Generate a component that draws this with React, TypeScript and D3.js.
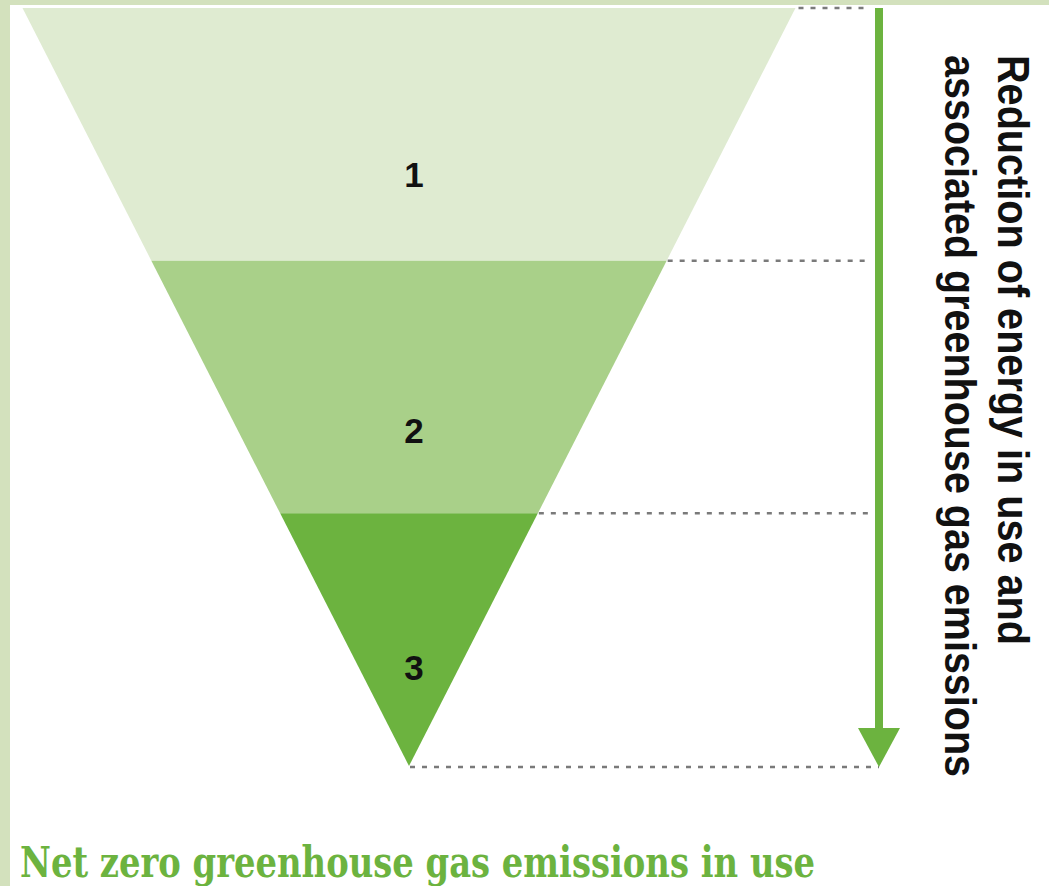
import React from "react";
import * as d3 from "d3";

const stageLabels = ["1", "2", "3"];
const stageBounds = [0, 1, 2, 3];
const labelLevels = [0.71, 1.72, 2.66];
const stageColors = ["#dfebd1", "#a9d089", "#6cb33f"];
const sideLines = ["Reduction of energy in use and", "associated greenhouse gas emissions"];
const footer = "Net zero greenhouse gas emissions in use";

const W = 1049;
const H = 886;

export default function App() {
  const y = d3.scaleLinear().domain([0, 3]).range([8, 766]);
  const half = d3.scaleLinear().domain([0, 3]).range([386.5, 0]);
  const cx = 409;
  const green = "#6cb33f";

  const bandPath = (a: number, b: number) => {
    const p = d3.path();
    p.moveTo(cx - half(a), y(a));
    p.lineTo(cx + half(a), y(a));
    p.lineTo(cx + half(b), y(b));
    p.lineTo(cx - half(b), y(b));
    p.closePath();
    return p.toString();
  };

  const arrowX = 879;

  return (
    <svg width={W} height={H} style={{ position: "absolute", left: 0, top: 0, background: "#fff" }}>
      <rect x={0} y={0} width={W} height={H} fill="#fff" />
      <rect x={0} y={0} width={W} height={5} fill="#d3e1bd" />
      <rect x={0} y={0} width={10} height={H} fill="#d3e1bd" />

      {stageLabels.map((s, i) => (
        <path key={s} d={bandPath(stageBounds[i], stageBounds[i + 1])} fill={stageColors[i]} />
      ))}

      {stageBounds.map((b, i) => {
        const last = i === stageBounds.length - 1;
        const x1 = cx + half(b) + (i === 0 ? 3 : 1);
        const x2 = last ? arrowX : 868;
        return (
          <line
            key={b}
            x1={x1}
            x2={x2}
            y1={y(b) + (last ? 1 : 0)}
            y2={y(b) + (last ? 1 : 0)}
            stroke="#7a7a7a"
            strokeWidth={2.5}
            strokeDasharray="5,7"
          />
        );
      })}

      {stageLabels.map((s, i) => (
        <text
          key={s}
          x={cx + 5}
          y={y(labelLevels[i])}
          textAnchor="middle"
          fontFamily="Liberation Sans, Arial, sans-serif"
          fontWeight="bold"
          fontSize={35}
          fill="#111"
        >
          {s}
        </text>
      ))}

      <line x1={arrowX} x2={arrowX} y1={8} y2={732} stroke={green} strokeWidth={8} />
      <path d={`M${arrowX - 21},728 L${arrowX + 21},728 L${arrowX},767 Z`} fill={green} />

      {sideLines.map((t, i) => (
        <text
          key={t}
          transform={`translate(${i === 0 ? 998 : 945},55) rotate(90)`}
          fontFamily="Liberation Sans, Arial, sans-serif"
          fontWeight="bold"
          fontSize={44}
          fill="#111"
          textLength={i === 0 ? 590 : 722}
          lengthAdjust="spacingAndGlyphs"
        >
          {t}
        </text>
      ))}

      <text
        x={20}
        y={877}
        fontFamily="DejaVu Serif, serif"
        fontWeight="bold"
        fontSize={43}
        fill={green}
        textLength={795}
        lengthAdjust="spacingAndGlyphs"
      >
        {footer}
      </text>
    </svg>
  );
}
